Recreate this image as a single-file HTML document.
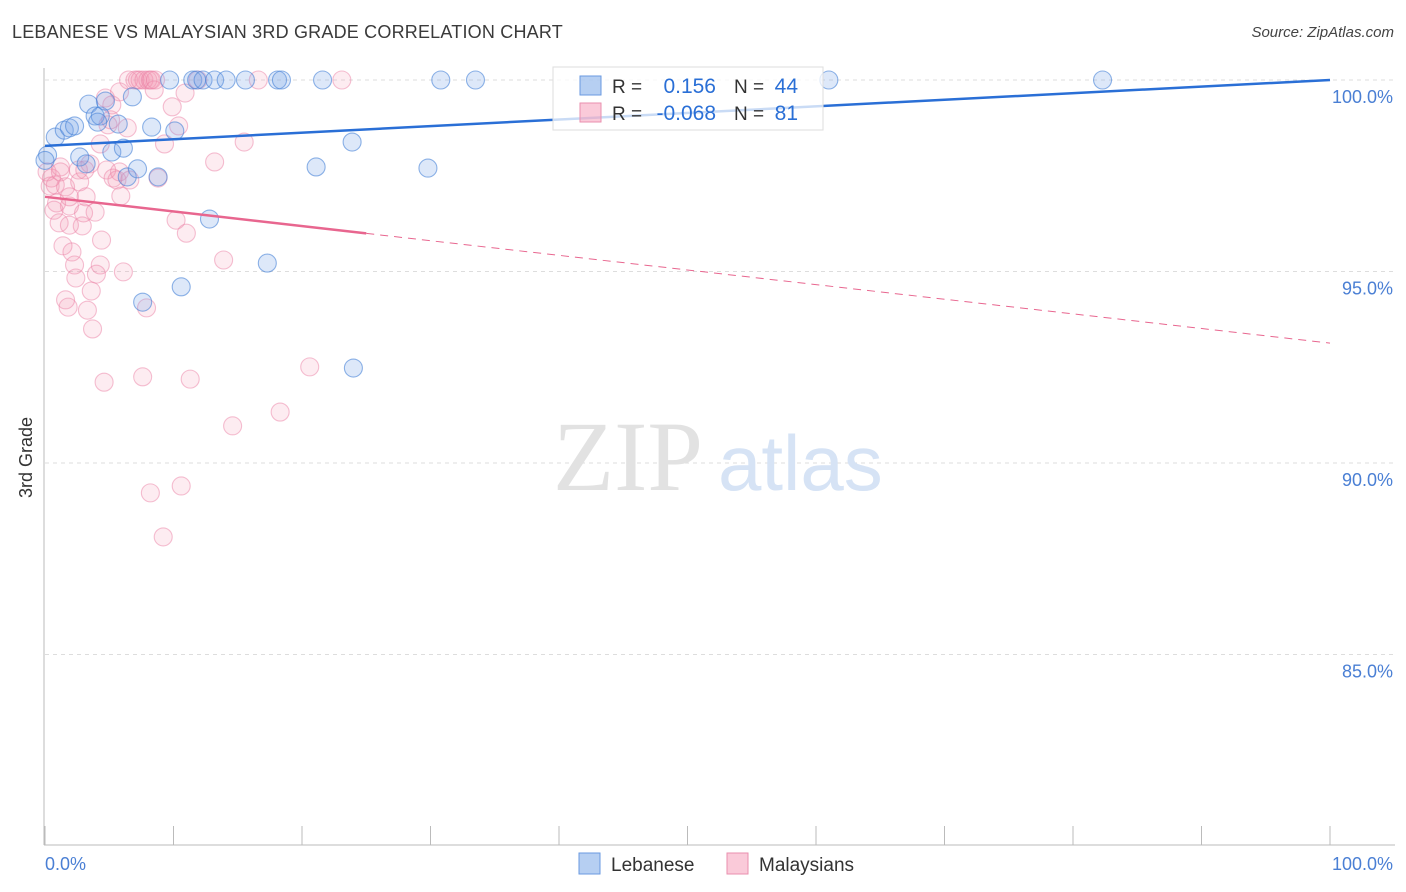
<!DOCTYPE html>
<html><head><meta charset="utf-8"><style>
body{margin:0;background:#fff;font-family:"Liberation Sans",sans-serif}
#wrap{position:relative;width:1406px;height:892px;overflow:hidden}
.t{position:absolute;white-space:nowrap}
</style></head><body>
<div id="wrap">
<div class="t" style="left:12px;top:22px;font-size:18px;color:#3a3a3a;letter-spacing:0.2px">LEBANESE VS MALAYSIAN 3RD GRADE CORRELATION CHART</div>
<div class="t" style="right:12px;top:24px;font-size:15px;color:#444;font-style:italic">Source: ZipAtlas.com</div>
<div class="t" style="left:16px;font-size:18px;color:#333;transform:rotate(-90deg);transform-origin:left top;top:498px">3rd Grade</div>
<svg id="svg" width="1406" height="892" style="position:absolute;left:0;top:0"></svg>
</div>
<script>
const yTicks=[100,95,90,85];
const yTickLabels=["100.0%","95.0%","90.0%","85.0%"];
const xTickLabels=["0.0%","100.0%"];
const lebX=[0.2,0.8,1.5,1.9,2.3,3.4,3.9,4.3,4.7,5.2,5.7,6.1,6.4,6.8,7.2,7.6,8.3,8.8,9.7,10.1,10.6,11.5,11.8,12.3,12.8,13.2,14.1,15.6,17.3,18.1,18.4,21.1,21.6,23.9,24.0,29.8,30.8,33.5,61.0,82.3,4.1,2.7,3.2,0];
const lebY=[98.04,98.51,98.69,98.75,98.8,99.37,99.06,99.06,99.45,98.12,98.85,98.22,97.47,99.56,97.68,94.2,98.77,97.47,100,98.67,94.6,100,100,100,96.37,100,100,100,95.22,100,100,97.73,100,98.38,92.48,97.7,100,100,100,100,98.9,97.99,97.81,97.9];
const malX=[0.16,0.4,0.5,0.8,0.9,1.1,1.2,1.4,1.6,1.8,1.9,1.9,2.1,2.3,2.4,2.6,2.7,2.9,3.0,3.2,3.3,3.5,3.6,3.7,3.9,4.0,4.3,4.4,4.6,4.7,4.8,4.9,5.1,5.2,5.3,5.6,5.8,5.9,6.1,6.4,6.5,7.0,7.2,7.4,7.7,7.9,8.0,8.2,8.3,7.6,8.2,8.5,8.6,8.8,9.2,9.3,9.9,10.2,10.4,10.6,10.9,11.0,11.3,11.9,13.2,13.9,14.6,15.5,16.6,18.3,20.6,23.1,5.8,1.2,1.9,3.1,6.6,1.6,4.3,0.7];
const malY=[97.6,97.23,97.44,97.26,96.79,96.27,97.73,95.67,97.21,94.07,96.71,96.95,95.51,95.17,94.83,97.65,97.34,96.19,96.53,96.95,93.99,97.81,94.49,93.5,96.55,94.93,98.33,95.82,92.11,99.53,97.65,98.83,98.96,99.35,97.44,97.39,99.69,96.97,94.99,98.75,100,100,100,100,100,94.05,100,100,100,92.25,89.22,99.74,100,97.44,88.07,98.33,99.3,96.34,98.8,89.4,99.66,96.0,92.19,100,97.86,95.3,90.97,98.38,100,91.33,92.51,100,97.6,97.6,96.21,97.65,97.39,94.26,95.17,96.6];
const lebTrend=[98.28,100];
const malTrend=[96.95,93.13];
const legendR=["0.156","-0.068"];
const legendN=["44","81"];
const legendNames=["Lebanese","Malaysians"];

const X0=45,X1=1330,YT=80,PER=38.3;
const sx=v=>X0+(X1-X0)*v/100;
const sy=v=>YT+(100-v)*PER;
const NS="http://www.w3.org/2000/svg";
const svg=document.getElementById('svg');
function mk(tag,attrs,parent){const e=document.createElementNS(NS,tag);for(const k in attrs)e.setAttribute(k,attrs[k]);(parent||svg).appendChild(e);return e;}

yTicks.forEach((t,i)=>{
  const g=mk('line',{x1:X0,x2:1395,y1:sy(t),y2:sy(t),stroke:'#ddd','stroke-dasharray':'4,4'});
  
  
  const tx=mk('text',{x:1393,y:sy(t)+23,'text-anchor':'end','font-size':18,fill:'#4a7fd4','font-family':'Liberation Sans'});
  tx.textContent=yTickLabels[i];
  
  
});
const ax=mk('line',{x1:44,x2:44,y1:68,y2:845,stroke:'#bbb'});


const bx=mk('line',{x1:44,x2:1395,y1:845,y2:845,stroke:'#bbb'});


for(let i=0;i<=10;i++){
  const tk=mk('line',{x1:sx(i*10),x2:sx(i*10),y1:826,y2:845,stroke:'#bbb'});
  
  
}
[[0,'start',45],[100,'end',1393]].forEach((d,i)=>{
  const tx=mk('text',{x:d[2],y:870,'text-anchor':d[1],'font-size':18,fill:'#4a7fd4','font-family':'Liberation Sans'});
  tx.textContent=xTickLabels[i];
  
  
});
const wm=mk('text',{x:553,y:490,'font-size':100,fill:'#e2e2e2','font-family':'Liberation Serif'});
wm.textContent='ZIP';


const wm2=mk('text',{x:718,y:490,'font-size':78,fill:'#d6e3f5','font-family':'Liberation Sans'});
wm2.textContent='atlas';



malX.forEach((x,i)=>{
  const c=mk('circle',{cx:sx(x),cy:sy(malY[i]),r:9,fill:'rgba(245,150,180,0.18)',stroke:'rgba(235,130,165,0.5)','stroke-width':1.1});
  
  
});
lebX.forEach((x,i)=>{
  const c=mk('circle',{cx:sx(x),cy:sy(lebY[i]),r:9,fill:'rgba(120,165,230,0.25)',stroke:'rgba(70,130,215,0.6)','stroke-width':1.1});
  
  
});
const bl=mk('line',{x1:sx(0),y1:sy(lebTrend[0]),x2:sx(100),y2:sy(lebTrend[1]),stroke:'#2a6fd6','stroke-width':2.5});


const mAt=x=>malTrend[0]+(malTrend[1]-malTrend[0])*x/100;
const pl=mk('line',{x1:sx(0),y1:sy(mAt(0)),x2:sx(25),y2:sy(mAt(25)),stroke:'#e8668f','stroke-width':2.5});


const pd=mk('line',{x1:sx(25),y1:sy(mAt(25)),x2:sx(100),y2:sy(mAt(100)),stroke:'#e8668f','stroke-width':1,'stroke-dasharray':'8,6'});



const lg=mk('rect',{x:553,y:67,width:270,height:63,fill:'rgba(255,255,255,0.75)',stroke:'#ddd'});


const cols=[['rgba(110,160,230,0.5)','#6a9ae0'],['rgba(245,150,180,0.5)','#ea8fae']];
[0,1].forEach(i=>{
  const y=76+i*27;
  const sw=mk('rect',{x:580,y:y,width:21,height:19,fill:cols[i][0],stroke:cols[i][1]});
  
  
  const t1=mk('text',{x:612,y:y+17,'font-size':19,fill:'#333','font-family':'Liberation Sans'});t1.textContent='R =';
  
  
  const t2=mk('text',{x:716,y:y+17,'text-anchor':'end','font-size':21,fill:'#2a6fd6','font-family':'Liberation Sans'});t2.textContent=legendR[i];
  
  
  const t3=mk('text',{x:734,y:y+17,'font-size':19,fill:'#333','font-family':'Liberation Sans'});t3.textContent='N =';
  
  
  const t4=mk('text',{x:798,y:y+17,'text-anchor':'end','font-size':21,fill:'#2a6fd6','font-family':'Liberation Sans'});t4.textContent=legendN[i];
  
  
});
[[579,'Lebanese'],[727,'Malaysians']].forEach((d,i)=>{
  const sw=mk('rect',{x:d[0],y:853,width:21,height:21,fill:cols[i][0],stroke:cols[i][1]});
  
  
  const t=mk('text',{x:d[0]+32,y:871,'font-size':19,fill:'#333','font-family':'Liberation Sans'});
  t.textContent=legendNames[i];
  
  
});
</script>
</body></html>
